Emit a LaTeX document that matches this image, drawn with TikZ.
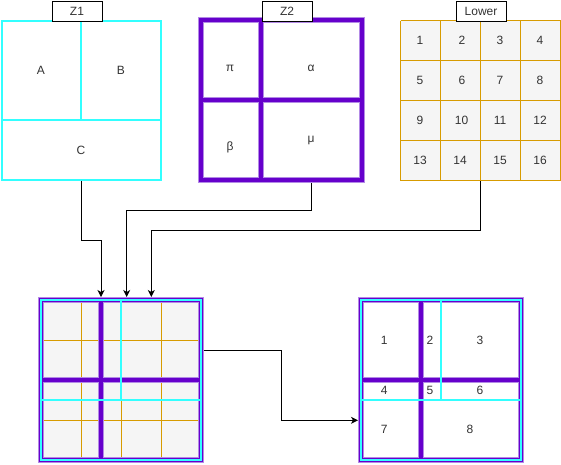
\documentclass[tikz,border=0pt]{standalone}
\usepackage{fontspec}
\setmainfont{Liberation Sans}
\usetikzlibrary{arrows.meta}
\definecolor{cyanl}{HTML}{33FFFF}
\definecolor{purp}{HTML}{6600CC}
\definecolor{purpl}{HTML}{B38AE6}
\definecolor{orng}{HTML}{D79B00}
\definecolor{grayf}{HTML}{F5F5F5}
\definecolor{txt}{HTML}{333333}
\tikzset{
  cyanln/.style={draw=cyanl, line width=2pt},
  purpwide/.style={draw=purpl, line width=6pt},
  purpnarrow/.style={draw=purp, line width=4pt},
  gridln/.style={draw=orng, line width=1pt},
  lbl/.style={font=\fontsize{12}{14}\selectfont, text=txt, inner sep=0pt},
  tag/.style={draw=black, fill=white, line width=1pt, minimum width=50pt, minimum height=20pt, inner sep=0pt, font=\fontsize{12}{14}\selectfont, text=txt, anchor=north west},
  arr/.style={draw=black, line width=1pt, -{Stealth[length=7pt,width=7pt,inset=2pt]}},
  box/.style={minimum width=160pt, minimum height=160pt, inner sep=0pt, draw=none}
}
\begin{document}
\begin{tikzpicture}[x=1pt,y=-1pt]
\useasboundingbox (0,0) rectangle (561,464);
\fill[white] (0,0) rectangle (561,464);

% ---------- named containers ----------
\node[box] (z1) at (81,100) {};
\node[box] (z2) at (281,100) {};
\node[box] (low) at (480.5,100.5) {};
\node[box] (cl) at (121,380) {};
\node[box] (cr) at (441,380) {};
\coordinate (t1) at (101,297);
\coordinate (t2) at (126.7,297);
\coordinate (t3) at (151.3,297);
\coordinate (z2out) at (311.3,180);
\coordinate (clout) at (203.5,350.3);
\coordinate (crin) at (358,420.3);

% ---------- connectors (under the shapes) ----------
\draw[arr] (z1.south) -- ++(0,60.3) -| (t1);
\draw[arr] (z2out) -- ++(0,30.3) -| (t2);
\draw[arr] (low.south) -- ++(0,50) -| (t3);
\draw[arr] (clout) -- (281,350.3) -- (281,420.3) -- (crin);

% ---------- Z1 ----------
\draw[cyanln] (1.5,21) rectangle (161,180);
\draw[cyanln] (81,21) -- (81,120) (1.5,120) -- (161,120);
\node[lbl] (za) at (41,70) {A};
\node[lbl] (zb) at (121,70) {B};
\node[lbl] (zc) at (81,150) {C};
\node[tag] (z1t) at (51.5,0.5) {Z1};

% ---------- Z2 ----------
\draw[purpwide] (201,20.3) rectangle (362,180.3);
\draw[purpwide] (261,20.3) -- (261,180.3) (201,100) -- (362,100);
\draw[purpnarrow] (201,20.3) rectangle (362,180.3);
\draw[purpnarrow] (261,20.3) -- (261,180.3) (201,100) -- (362,100);
\node[lbl] (zpi) at (230,68) {π};
\node[lbl] (zal) at (311,68) {α};
\node[lbl] (zbe) at (230,147) {β};
\node[lbl] (zmu) at (311,140) {μ};
\node[tag] (z2t) at (261.5,0.5) {Z2};

% ---------- Lower ----------
\fill[grayf] (400.5,20.5) rectangle (560.5,180.5);
\foreach \i in {0,...,4} {
  \draw[gridln] (400.5+40*\i,20.5) -- (400.5+40*\i,180.5);
  \draw[gridln] (400.5,20.5+40*\i) -- (560.5,20.5+40*\i);
}
\foreach \n/\x/\y in {1/420/40,2/462/40,3/500/40,4/540/40,
                      5/420/80,6/462/80,7/500/80,8/540/80,
                      9/420/120,10/461.5/120,11/500/120,12/540/120,
                      13/420/160,14/460/160,15/500/160,16/540/160} {
  \node[lbl] (n\n) at (\x,\y) {\n};
}
\node[tag] (lowt) at (455.5,0.5) {Lower};

% ---------- left composite ----------
\fill[grayf] (41,300) rectangle (201,460);
\foreach \i in {81,121,161} {
  \draw[gridln] (\i,300) -- (\i,460);
}
\foreach \j in {340,380,420} {
  \draw[gridln] (41,\j) -- (201,\j);
}
\draw[purpwide] (41,300) rectangle (201,460);
\draw[purpwide] (101,300) -- (101,460) (41,380) -- (201,380);
\draw[purpnarrow] (41,300) rectangle (201,460);
\draw[purpnarrow] (101,300) -- (101,460) (41,380) -- (201,380);
\draw[cyanln] (41,300) rectangle (201,460);
\draw[cyanln] (121,300) -- (121,400) (41,400) -- (201,400);

% ---------- right composite ----------
\fill[white] (361,300) rectangle (521,460);
\draw[purpwide] (361,300) rectangle (521,460);
\draw[purpwide] (421,300) -- (421,460) (361,380) -- (521,380);
\draw[purpnarrow] (361,300) rectangle (521,460);
\draw[purpnarrow] (421,300) -- (421,460) (361,380) -- (521,380);
\draw[cyanln] (361,300) rectangle (521,460);
\draw[cyanln] (441,300) -- (441,400) (361,400) -- (521,400);
\node[lbl] (r1) at (384.3,340) {1};
\node[lbl] (r2) at (430,340) {2};
\node[lbl] (r3) at (480,340) {3};
\node[lbl] (r4) at (384.3,390) {4};
\node[lbl] (r5) at (430,390) {5};
\node[lbl] (r6) at (480,390) {6};
\node[lbl] (r7) at (384.3,429.5) {7};
\node[lbl] (r8) at (470,429.5) {8};
\end{tikzpicture}
\end{document}
